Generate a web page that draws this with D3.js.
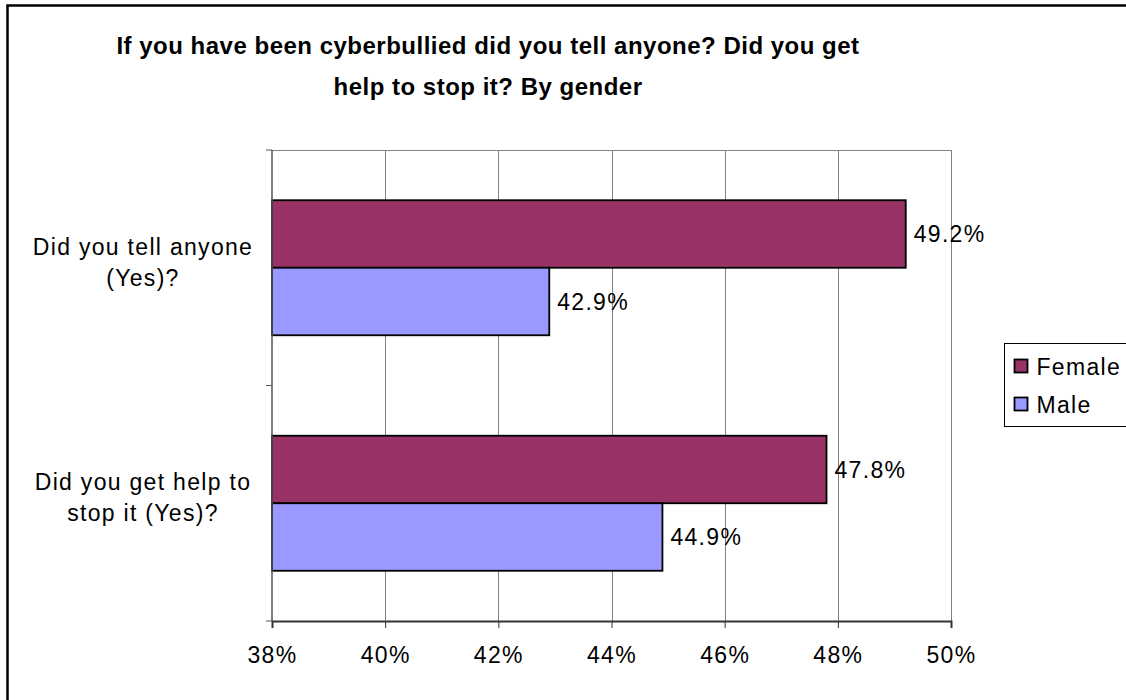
<!DOCTYPE html>
<html>
<head>
<meta charset="utf-8">
<script src="https://cdn.jsdelivr.net/npm/d3@7"></script>
<style>
  html, body { margin: 0; padding: 0; background: #fff; }
  svg { display: block; font-family: "Liberation Sans", Arial, sans-serif; }
</style>
</head>
<body>
<svg id="chart" width="1126" height="700"></svg>
<script>
// Survey responses by gender
const categories = ["Did you tell anyone (Yes)?", "Did you get help to stop it (Yes)?"];
const categoryLines = [["Did you tell anyone", "(Yes)?"], ["Did you get help to", "stop it (Yes)?"]];
const series = ["Female", "Male"];
const femaleValues = [49.2, 47.8];
const maleValues = [42.9, 44.9];
const tickValues = [38, 40, 42, 44, 46, 48, 50];
const tickLabels = ["38%", "40%", "42%", "44%", "46%", "48%", "50%"];
const colors = { Female: "#993366", Male: "#9999FF" };
const titleLines = ["If you have been cyberbullied did you tell anyone? Did you get", "help to stop it? By gender"];

const svg = d3.select("#chart");
const LABEL_SIZE = 23;
const LABEL_SPACING = 1.3;

// Outer chart frame
svg.append("rect")
  .attr("x", 7.5).attr("y", 5.5)
  .attr("width", 1200).attr("height", 760)
  .attr("fill", "#fff").attr("stroke", "#000").attr("stroke-width", 2.5);

// Plot geometry
const plot = { left: 272, right: 951, top: 150, bottom: 621 };

const x = d3.scaleLinear().domain([38, 50]).range([plot.left, plot.right]);
const y0 = d3.scaleBand().domain(categories).range([plot.top, plot.bottom]).paddingInner(0).paddingOuter(0);
const y1 = d3.scaleBand().domain(series).range([0, y0.bandwidth()]).paddingInner(0).paddingOuter(0.744);

// Title
const title = svg.append("text")
  .attr("text-anchor", "middle")
  .attr("font-weight", "bold")
  .attr("font-size", 24)
  .attr("letter-spacing", 0.5)
  .attr("fill", "#000");
title.selectAll("tspan").data(titleLines).join("tspan")
  .attr("x", 488)
  .attr("y", (d, i) => 54 + i * 41)
  .text(d => d);

// Gridlines
svg.append("g").selectAll("line")
  .data(tickValues.slice(1))
  .join("line")
  .attr("x1", d => Math.round(x(d)) + 0.5).attr("x2", d => Math.round(x(d)) + 0.5)
  .attr("y1", plot.top).attr("y2", plot.bottom)
  .attr("stroke", "#808080").attr("stroke-width", 1);

// Plot border (top)
svg.append("line")
  .attr("x1", plot.left).attr("x2", plot.right)
  .attr("y1", plot.top + 0.5).attr("y2", plot.top + 0.5)
  .attr("stroke", "#808080").attr("stroke-width", 1);

// Bars
const rows = categories.map((c, i) => ({ category: c, values: [
  { key: "Female", value: femaleValues[i] },
  { key: "Male", value: maleValues[i] }
] }));

const groups = svg.append("g").selectAll("g")
  .data(rows)
  .join("g")
  .attr("transform", d => `translate(0,${y0(d.category)})`);

groups.selectAll("rect")
  .data(d => d.values)
  .join("rect")
  .attr("x", x(38))
  .attr("y", d => y1(d.key))
  .attr("width", d => x(d.value) - x(38))
  .attr("height", y1.bandwidth())
  .attr("fill", d => colors[d.key])
  .attr("stroke", "#000").attr("stroke-width", 1.8);

groups.selectAll("text")
  .data(d => d.values)
  .join("text")
  .attr("x", d => x(d.value) + 8)
  .attr("y", d => y1(d.key) + y1.bandwidth() / 2)
  .attr("dy", "0.35em")
  .attr("font-size", LABEL_SIZE)
  .attr("letter-spacing", LABEL_SPACING)
  .attr("fill", "#000")
  .text(d => d.value.toFixed(1) + "%");

// X axis
const xAxis = d3.axisBottom(x)
  .tickValues(tickValues)
  .tickFormat((d, i) => tickLabels[i])
  .tickSize(7)
  .tickPadding(0);

const gx = svg.append("g")
  .attr("transform", `translate(0,${plot.bottom})`)
  .call(xAxis);
gx.select(".domain").attr("stroke", "#333").attr("stroke-width", 2);
gx.selectAll(".tick line").attr("stroke", "#333");
gx.selectAll(".tick text")
  .attr("y", 42)
  .attr("dy", 0)
  .attr("font-size", LABEL_SIZE)
  .attr("letter-spacing", LABEL_SPACING)
  .attr("fill", "#000")
  .attr("font-family", "Liberation Sans, Arial, sans-serif");

// Y axis (category boundaries as ticks)
svg.append("line")
  .attr("x1", plot.left).attr("x2", plot.left)
  .attr("y1", plot.top).attr("y2", plot.bottom)
  .attr("stroke", "#555").attr("stroke-width", 1.5);

const boundaries = [plot.top, ...categories.map(c => y0(c) + y0.bandwidth())];
svg.append("g").selectAll("line")
  .data(boundaries)
  .join("line")
  .attr("x1", plot.left - 6).attr("x2", plot.left)
  .attr("y1", d => d).attr("y2", d => d)
  .attr("stroke", "#555").attr("stroke-width", 1);

// Category labels
const catLabels = svg.append("g").selectAll("text")
  .data(categories)
  .join("text")
  .attr("text-anchor", "middle")
  .attr("font-size", LABEL_SIZE)
  .attr("letter-spacing", LABEL_SPACING)
  .attr("fill", "#000");
catLabels.each(function(c, i) {
  const cy = y0(c) + y0.bandwidth() / 2;
  const lines = categoryLines[i];
  d3.select(this).selectAll("tspan").data(lines).join("tspan")
    .attr("x", 143)
    .attr("y", (d, j) => cy - 13 + j * 31)
    .text(d => d);
});

// Legend
const legend = svg.append("g").attr("transform", "translate(1004.5,343.5)");
legend.append("rect")
  .attr("width", 160).attr("height", 83)
  .attr("fill", "#fff").attr("stroke", "#000").attr("stroke-width", 1);
const items = legend.selectAll("g.item")
  .data(series)
  .join("g")
  .attr("class", "item")
  .attr("transform", (d, i) => `translate(10,${16 + i * 38})`);
items.append("rect")
  .attr("width", 13).attr("height", 13)
  .attr("fill", d => colors[d])
  .attr("stroke", "#000").attr("stroke-width", 1.8);
items.append("text")
  .attr("x", 22).attr("y", 7)
  .attr("dy", "0.35em")
  .attr("font-size", LABEL_SIZE)
  .attr("letter-spacing", LABEL_SPACING)
  .attr("fill", "#000")
  .text(d => d);
</script>
</body>
</html>
